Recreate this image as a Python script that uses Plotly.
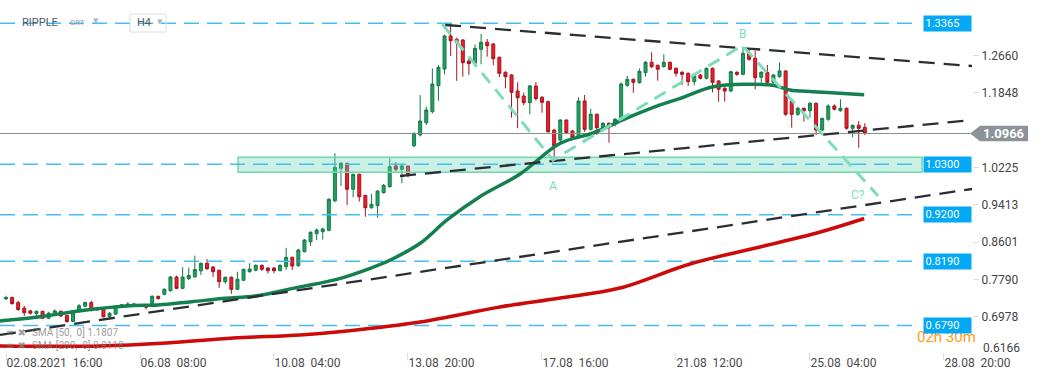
import plotly.graph_objects as go

# ---------------- data ----------------
opens = [0.737,0.740,0.729,0.717,0.711,0.705,0.710,0.695,0.705,0.710,
         0.701,0.688,0.709,0.721,0.729,0.713,0.714,0.699,0.704,0.722,
         0.722,0.726,0.721,0.722,0.7216,0.7426,0.747,0.755,0.7846,0.760,
         0.781,0.785,0.798,0.8144,0.8064,0.7992,0.7744,0.784,0.758,0.7775,
         0.7962,0.7992,0.810,0.8042,0.8042,0.7984,0.807,0.8274,0.8092,0.8396,
         0.8614,0.8788,0.8832,0.8861,0.9505,1.021,1.0318,0.9753,1.0079,0.9622,
         0.9353,0.9397,0.9679,0.981,1.026,1.0188,1.026,1.0701,1.0933,1.1201,
         1.144,1.2005,1.2368,1.3086,1.3014,1.2999,1.2542,1.2492,1.2797,1.2949,
         1.2912,1.2622,1.2296,1.2238,1.189,1.1781,1.1636,1.1999,1.1753,1.1657,
         1.1042,1.0825,1.1259,1.102,1.0875,1.1673,1.1057,1.1383,1.1042,1.1188,
         1.1173,1.1259,1.2014,1.2144,1.2071,1.2288,1.2514,1.2449,1.2418,1.2514,
         1.2383,1.2296,1.2275,1.2092,1.2238,1.2166,1.2383,1.2108,1.1949,1.189,
         1.2296,1.2253,1.271,1.2601,1.2188,1.2296,1.2079,1.2201,1.2325,1.1673,
         1.1383,1.1514,1.1462,1.1622,1.1042,1.1275,1.1564,1.1462,1.1514,1.1079,
         1.1144,1.1101]
highs = [0.744,0.742,0.733,0.722,0.713,0.712,0.711,0.709,0.714,0.712,
         0.702,0.712,0.726,0.731,0.733,0.717,0.716,0.708,0.723,0.726,
         0.730,0.728,0.726,0.723,0.745,0.744,0.760,0.787,0.7875,0.806,
         0.805,0.831,0.816,0.8238,0.808,0.801,0.786,0.786,0.796,0.803,
         0.8144,0.812,0.812,0.806,0.806,0.812,0.848,0.829,0.846,0.867,
         0.884,0.890,0.892,0.956,1.0536,1.034,1.033,1.009,1.009,0.963,
         0.9651,0.973,0.987,1.0427,1.034,1.028,1.027,1.099,1.180,1.155,
         1.238,1.245,1.312,1.3346,1.305,1.302,1.263,1.290,1.313,1.302,
         1.293,1.264,1.232,1.226,1.2079,1.1853,1.202,1.2086,1.178,1.168,
         1.106,1.128,1.127,1.104,1.1753,1.1803,1.150,1.140,1.121,1.121,
         1.130,1.2075,1.222,1.216,1.238,1.254,1.273,1.246,1.2688,1.253,
         1.240,1.232,1.229,1.224,1.226,1.240,1.240,1.212,1.197,1.233,
         1.232,1.2853,1.279,1.276,1.232,1.2455,1.226,1.2514,1.234,1.169,
         1.155,1.153,1.165,1.164,1.131,1.160,1.160,1.171,1.153,1.116,
         1.1238,1.1188]
lows = [0.735,0.724,0.711,0.700,0.703,0.693,0.694,0.693,0.702,0.698,
        0.685,0.687,0.708,0.719,0.710,0.711,0.697,0.694,0.702,0.720,
        0.720,0.720,0.719,0.714,0.720,0.735,0.745,0.753,0.758,0.758,
        0.778,0.783,0.789,0.800,0.785,0.761,0.770,0.748,0.756,0.776,
        0.794,0.797,0.798,0.792,0.793,0.797,0.800,0.800,0.807,0.838,
        0.852,0.8651,0.866,0.884,0.947,0.9825,0.9412,0.9579,0.9484,0.9157,
        0.933,0.9136,0.966,0.979,1.014,0.9883,1.0014,1.0666,1.090,1.115,
        1.140,1.168,1.225,1.265,1.211,1.2201,1.224,1.2418,1.247,1.2636,
        1.245,1.219,1.1949,1.131,1.108,1.158,1.138,1.168,1.1418,1.098,
        1.045,1.078,1.095,1.083,1.085,1.100,1.103,1.0933,1.100,1.0766,
        1.112,1.124,1.198,1.1853,1.205,1.2201,1.239,1.2114,1.240,1.234,
        1.2201,1.202,1.200,1.201,1.214,1.214,1.186,1.1657,1.166,1.187,
        1.222,1.223,1.255,1.1927,1.207,1.205,1.205,1.218,1.135,1.1092,
        1.135,1.1223,1.132,1.0933,1.102,1.124,1.147,1.144,1.105,1.0883,
        1.0657,1.093]
closes = [0.740,0.727,0.714,0.707,0.706,0.710,0.695,0.706,0.711,0.700,
          0.688,0.709,0.722,0.729,0.713,0.714,0.698,0.706,0.720,0.724,
          0.726,0.722,0.723,0.719,0.7426,0.738,0.758,0.7846,0.760,0.7846,
          0.788,0.801,0.8144,0.8027,0.7962,0.7744,0.784,0.758,0.7797,0.8014,
          0.8021,0.810,0.8014,0.7984,0.7984,0.810,0.8274,0.8085,0.8433,0.8651,
          0.8818,0.8868,0.889,0.9535,1.0231,1.0318,0.9753,1.0079,0.9592,0.9353,
          0.9427,0.9716,0.984,1.0245,1.0188,1.026,1.0079,1.097,1.1238,1.1477,
          1.2042,1.2405,1.3086,1.2984,1.294,1.2505,1.2484,1.2818,1.2949,1.2875,
          1.2592,1.2275,1.2201,1.1862,1.1744,1.1636,1.1999,1.1723,1.1644,1.1005,
          1.070,1.1259,1.0983,1.0875,1.1673,1.1057,1.1383,1.1092,1.1188,1.1114,
          1.1275,1.2042,1.2144,1.2079,1.2318,1.2514,1.2418,1.2362,1.2514,1.2362,
          1.2275,1.2253,1.2092,1.2223,1.2166,1.2383,1.2079,1.1927,1.189,1.231,
          1.2253,1.271,1.2579,1.218,1.2296,1.2079,1.2238,1.2325,1.1383,1.1383,
          1.1514,1.1462,1.1622,1.1042,1.1296,1.1564,1.1492,1.1514,1.1079,1.1144,
          1.1079,1.0966]
candle_idx = list(range(len(closes)))

x_tick_idx = [0, 22, 44, 66, 88, 110, 132, 154]
x_tick_text = ["02.08.2021\u00a0\u00a016:00", "06.08\u00a0\u00a008:00", "10.08\u00a0\u00a004:00",
               "13.08\u00a0\u00a020:00", "17.08\u00a0\u00a016:00", "21.08\u00a0\u00a012:00",
               "25.08\u00a0\u00a004:00", "28.08\u00a0\u00a020:00"]
y_tick_vals = [0.6978, 0.7790, 0.8601, 0.9413, 1.0225, 1.1848, 1.2660]
y_tick_text = ["0.6978", "0.7790", "0.8601", "0.9413", "1.0225", "1.1848", "1.2660"]
y_bottom_label = "0.6166"

level_values = [1.3365, 1.0300, 0.9200, 0.8190, 0.6790]
level_labels = ["1.3365", "1.0300", "0.9200", "0.8190", "0.6790"]
last_price = 1.0966
last_price_label = "1.0966"

sma50_idx = [-1, 0, 5.6, 12.2, 20.4, 25.0, 30.5, 36.0, 40.9, 48.3, 54.3, 59.8, 63.1, 68.0,
             72.4, 77.8, 84.4, 91.0, 96.4, 102.0, 107.4, 110.7, 116.1, 121.7, 125.9, 128.7,
             132.5, 136.9, 140.9]
sma50_val = [0.6890, 0.6905, 0.6983, 0.7114, 0.7223, 0.7238, 0.7309, 0.7383, 0.7433, 0.7632,
             0.7796, 0.8036, 0.8216, 0.8579, 0.9086, 0.9592, 1.0086, 1.0753, 1.0977, 1.1303,
             1.1586, 1.1731, 1.1983, 1.2036, 1.2014, 1.1912, 1.1875, 1.1840, 1.1810]
sma200_idx = [-1, 15.4, 26.4, 37.3, 48.3, 56.0, 68.0, 81.1, 91.0, 100.8, 112.3, 123.8, 133.7, 140.9]
sma200_val = [0.6346, 0.6346, 0.6412, 0.6520, 0.6586, 0.6673, 0.6868, 0.7194, 0.7390, 0.7607,
              0.8129, 0.8499, 0.8825, 0.9118]
sma_legend = ["SMA [50,\u00a0 0] 1.1807", "SMA [200,\u00a0 0] 0.9118"]

trend_upper_idx = [72.1, 158.6]
trend_upper_val = [1.3325, 1.2433]
trend_mid_idx = [64.7, 158.6]
trend_mid_val = [1.0042, 1.1259]
trend_low_idx = [-0.985, 158.6]
trend_low_val = [0.6586, 0.9760]

wave_idx = [71.6, 89.8, 120.9, 143.2]
wave_val = [1.3346, 1.0390, 1.2879, 0.9607]
wave_labels = ["A", "B", "C?"]
wave_label_idx = [89.8, 120.9, 139.9]
wave_label_val = [0.9825, 1.3129, 0.9629]

zone_idx = [38.1, 150.4]
zone_val = [1.0122, 1.0448]
level_end_idx = 149.3
x_min, x_max = -0.985, 158.6
y_min, y_max = 0.6216, 1.3868

# ---------------- figure ----------------
W, H = 1041, 379
ML, MR, MT, MB = 0, 69, 0, 27
PW, PH = W - ML - MR, H - MT - MB

def px(xp):
    return xp / PW

def py(yp):
    return (PH - yp) / PH

fig = go.Figure()

fig.add_trace(go.Candlestick(
    x=candle_idx, open=opens, high=highs, low=lows, close=closes,
    increasing=dict(line=dict(color="#147A48", width=1), fillcolor="#22A063"),
    decreasing=dict(line=dict(color="#A8121C", width=1), fillcolor="#E8202D"),
    whiskerwidth=0, showlegend=False, hoverinfo="skip"))

# support zone
fig.add_trace(go.Scatter(
    x=[zone_idx[0], zone_idx[1], zone_idx[1], zone_idx[0], zone_idx[0]],
    y=[zone_val[0], zone_val[0], zone_val[1], zone_val[1], zone_val[0]],
    mode="lines", fill="toself", fillcolor="rgba(100,215,175,0.34)",
    line=dict(color="#72D6AF", width=1.5), showlegend=False, hoverinfo="skip"))

# horizontal levels
for v in level_values:
    fig.add_trace(go.Scatter(x=[x_min, level_end_idx], y=[v, v], mode="lines",
                             line=dict(color="#45BDF0", width=1.5, dash="15px,8px"),
                             showlegend=False, hoverinfo="skip"))
fig.add_trace(go.Scatter(x=[x_min, 158.3], y=[last_price, last_price], mode="lines",
                         line=dict(color="#8A9095", width=1), showlegend=False, hoverinfo="skip"))

# moving averages
fig.add_trace(go.Scatter(x=sma200_idx, y=sma200_val, mode="lines", line=dict(color="#CC0A0A", width=3.5, shape="spline"),
                         showlegend=False, hoverinfo="skip"))
fig.add_trace(go.Scatter(x=sma50_idx, y=sma50_val, mode="lines", line=dict(color="#15804F", width=3.5, shape="spline"),
                         showlegend=False, hoverinfo="skip"))

# trend lines
for tx, ty in [(trend_upper_idx, trend_upper_val), (trend_mid_idx, trend_mid_val), (trend_low_idx, trend_low_val)]:
    fig.add_trace(go.Scatter(x=tx, y=ty, mode="lines", line=dict(color="#2B2F33", width=2.3, dash="16px,9px"),
                             showlegend=False, hoverinfo="skip"))

# ABC wave
fig.add_trace(go.Scatter(x=wave_idx, y=wave_val, mode="lines", line=dict(color="#7EDDB9", width=3, dash="13px,8px"),
                         showlegend=False, hoverinfo="skip"))

annotations = []
for t, xi, yv in zip(wave_labels, wave_label_idx, wave_label_val):
    annotations.append(dict(x=xi, y=yv, xref="x", yref="y", text=t, showarrow=False,
                            font=dict(family="Roboto, Arial", size=12, color="#7EDDB9")))

# countdown text (partly covered by the label box, as in the original)
annotations.append(dict(x=px(915), y=py(337), xref="paper", yref="paper", xanchor="left", yanchor="middle",
                        text="02h 30m", showarrow=False,
                        font=dict(family="Roboto, Arial", size=15, color="#FF9A1A")))

# level label boxes
for v, lab in zip(level_values, level_labels):
    annotations.append(dict(x=1.0, y=v, xref="paper", yref="y", xanchor="right", yanchor="middle",
                            text=lab, showarrow=False, align="left", width=44, height=12,
                            bgcolor="#03A9F4", borderpad=1.5,
                            font=dict(family="Roboto, Arial", size=11, color="white")))

# bottom-most y label
annotations.append(dict(x=1.0, y=py(348), xref="paper", yref="paper", xanchor="left", yanchor="middle",
                        xshift=9, text=y_bottom_label, showarrow=False,
                        font=dict(family="Roboto, Arial", size=12, color="#444")))

# last price label
annotations.append(dict(x=px(1004), y=last_price, xref="paper", yref="y", xanchor="center", yanchor="middle",
                        text="<b>" + last_price_label + "</b>", showarrow=False,
                        font=dict(family="Roboto, Arial", size=13, color="white")))

# header
annotations += [
    dict(x=px(20), y=py(22), xref="paper", yref="paper", xanchor="left", yanchor="middle", text="RIPPLE",
         showarrow=False, font=dict(family="Roboto, Arial", size=11, color="#55595E")),
    dict(x=px(68), y=py(23), xref="paper", yref="paper", xanchor="left", yanchor="middle", text="CRT",
         showarrow=False, font=dict(family="Roboto, Arial", size=8, color="#90A0AE")),
    dict(x=px(91), y=py(21), xref="paper", yref="paper", xanchor="left", yanchor="middle", text="\u25BC",
         showarrow=False, font=dict(family="DejaVu Sans", size=7, color="#B0B4B8")),
    dict(x=px(135), y=py(23), xref="paper", yref="paper", xanchor="left", yanchor="middle", text="H4",
         showarrow=False, font=dict(family="Roboto, Arial", size=11, color="#55595E")),
    dict(x=px(155), y=py(22), xref="paper", yref="paper", xanchor="left", yanchor="middle", text="\u25BC",
         showarrow=False, font=dict(family="DejaVu Sans", size=7, color="#B0B4B8")),
]

# indicator legend
for i, txt in enumerate(sma_legend):
    yy = py(332 + 13 * i)
    annotations.append(dict(x=px(4), y=yy, xref="paper", yref="paper", xanchor="left", yanchor="middle",
                            text="\u2261 \u2716", showarrow=False,
                            font=dict(family="DejaVu Sans", size=10, color="rgba(130,130,130,0.75)")))
    annotations.append(dict(x=px(30), y=yy, xref="paper", yref="paper", xanchor="left", yanchor="middle",
                            text=txt, showarrow=False,
                            font=dict(family="Roboto, Arial", size=10, color="rgba(120,120,120,0.75)")))

shapes = [
    dict(type="rect", xref="paper", yref="paper", x0=px(130), x1=px(166), y0=py(32), y1=py(14),
         line=dict(color="#DADDE0", width=1), fillcolor="rgba(0,0,0,0)", layer="above"),
    dict(type="path", xref="paper", yref="y",
         path="M {a},{m} L {b},{t} L {c},{t} L {c},{bt} L {b},{bt} Z".format(
             a=px(970), b=px(980), c=px(1028), m=last_price,
             t=last_price + 7.7 / PH * (y_max - y_min), bt=last_price - 7.7 / PH * (y_max - y_min)),
         fillcolor="#8C9398", line=dict(width=0), layer="below"),
]

fig.update_layout(
    width=W, height=H,
    margin=dict(l=ML, r=MR, t=MT, b=MB, autoexpand=False),
    paper_bgcolor="white", plot_bgcolor="white",
    showlegend=False,
    annotations=annotations, shapes=shapes,
    xaxis=dict(range=[x_min, x_max], rangeslider=dict(visible=False), showgrid=False, zeroline=False,
               showline=False, tickmode="array", tickvals=x_tick_idx, ticktext=x_tick_text,
               ticks="outside", ticklen=7, tickcolor="#DDDDDD", ticklabelposition="outside right",
               tickfont=dict(family="Roboto, Arial", size=12, color="#4A4A4A"), fixedrange=True),
    yaxis=dict(range=[y_min, y_max], side="right", showgrid=False, zeroline=False, showline=False,
               tickmode="array", tickvals=y_tick_vals, ticktext=y_tick_text,
               ticks="outside", ticklen=6, tickcolor="#DDDDDD",
               tickfont=dict(family="Roboto, Arial", size=12, color="#444444"), fixedrange=True),
)

fig.write_html("out.html", config={"displayModeBar": False},
               post_script="document.body.style.margin='0';document.body.style.overflow='hidden';")
